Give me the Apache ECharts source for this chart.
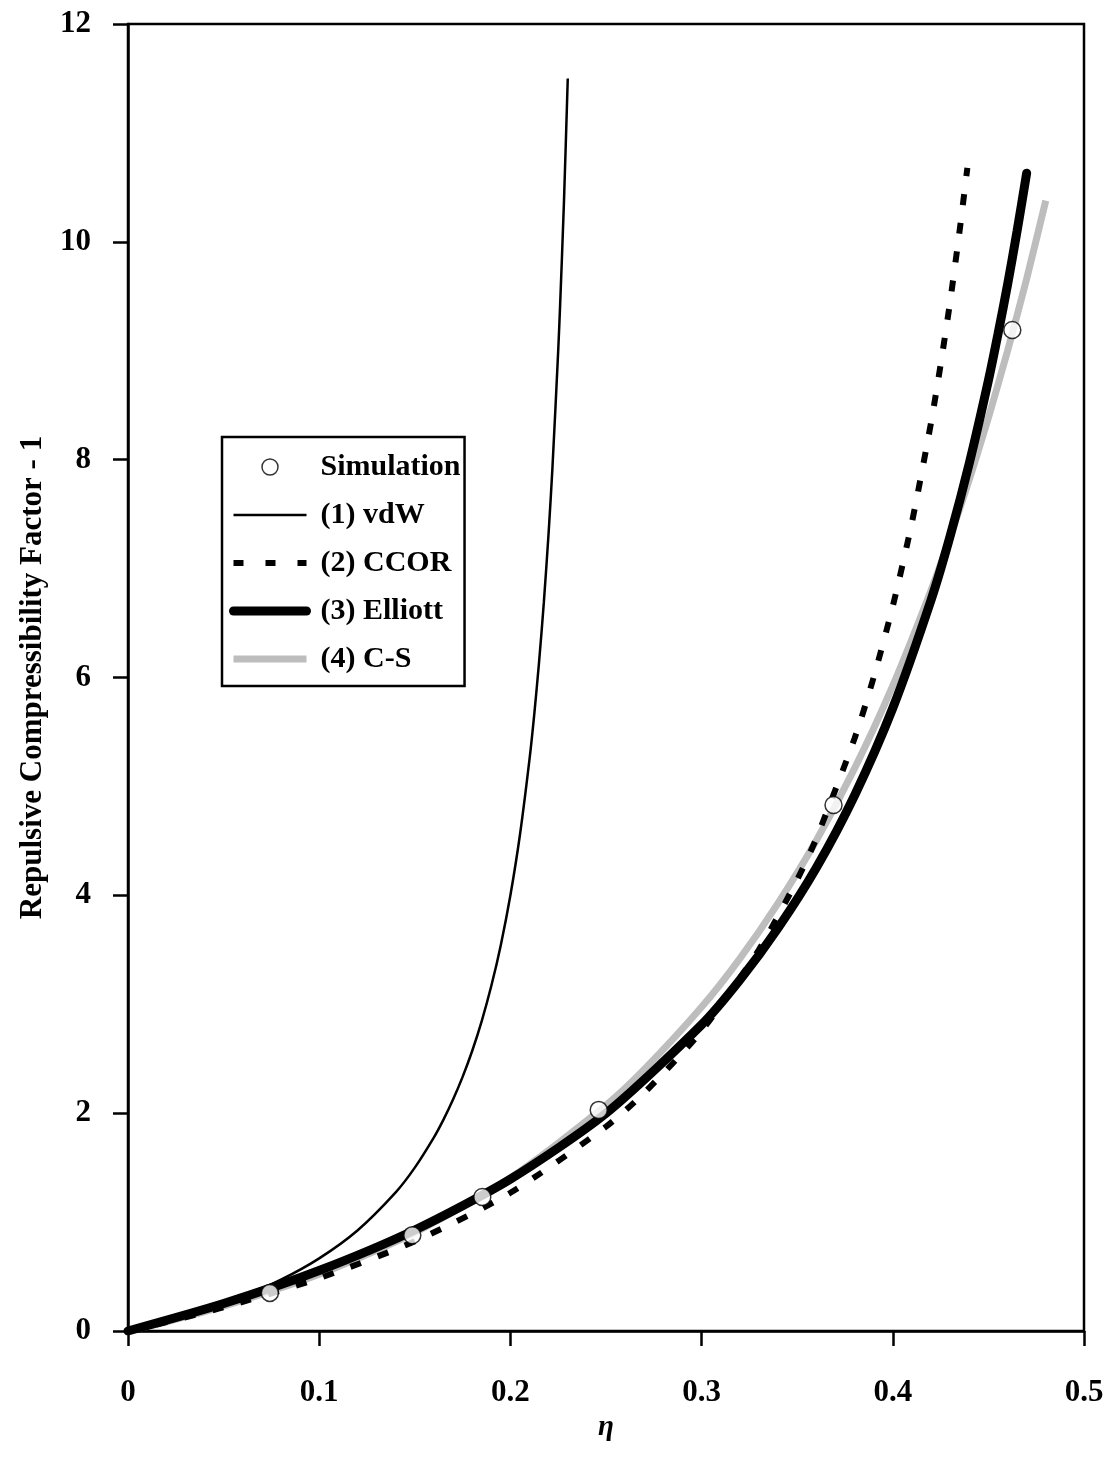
<!DOCTYPE html>
<html><head><meta charset="utf-8">
<script src="https://cdn.jsdelivr.net/npm/echarts@6/dist/echarts.min.js"></script>
<style>html,body{margin:0;padding:0;background:#fff}#c{width:1110px;height:1464px}</style>
</head><body><div id="c"></div>
<script>
// Simulation points
const simEta = [0.0742, 0.1487, 0.1853, 0.2462, 0.369, 0.4625];
const simZ   = [0.35, 0.88, 1.23, 2.03, 4.83, 9.19];
// (1) vdW
const vdwEta = [0, 0.02, 0.04, 0.06, 0.08, 0.10, 0.12, 0.14, 0.15, 0.16, 0.165, 0.17, 0.175, 0.18, 0.185, 0.19, 0.195, 0.20, 0.205, 0.21, 0.2125, 0.215, 0.2175, 0.22, 0.222, 0.225, 0.226, 0.228, 0.23];
const vdwZ   = [0, 0.087, 0.190, 0.316, 0.471, 0.667, 0.923, 1.273, 1.5, 1.778, 1.941, 2.125, 2.333, 2.571, 2.846, 3.167, 3.545, 4.0, 4.556, 5.25, 5.667, 6.143, 6.692, 7.333, 7.929, 9.0, 9.417, 10.36, 11.5];
// (2) CCOR
const ccorEta = [0, 0.02, 0.05, 0.10, 0.15, 0.20, 0.25, 0.27, 0.30, 0.33, 0.35, 0.36, 0.38, 0.39, 0.40, 0.41, 0.42, 0.425, 0.43, 0.435, 0.439];
const ccorZ   = [0, 0.0815, 0.217, 0.485, 0.824, 1.269, 1.876, 2.187, 2.756, 3.502, 4.144, 4.523, 5.44, 6.002, 6.655, 7.424, 8.34, 8.871, 9.454, 10.11, 10.68];
// (3) Elliott
const ellEta = [0, 0.05, 0.10, 0.15, 0.20, 0.25, 0.30, 0.32, 0.34, 0.36, 0.38, 0.40, 0.42, 0.43, 0.44, 0.45, 0.455, 0.46, 0.465, 0.47];
const ellZ   = [0, 0.252, 0.555, 0.927, 1.394, 1.999, 2.812, 3.222, 3.70, 4.253, 4.917, 5.72, 6.711, 7.299, 7.967, 8.727, 9.152, 9.604, 10.10, 10.63];
// (4) C-S
const csEta = [0, 0.02, 0.05, 0.10, 0.15, 0.20, 0.25, 0.27, 0.30, 0.32, 0.34, 0.36, 0.38, 0.40, 0.42, 0.43, 0.44, 0.45, 0.46, 0.47, 0.48];
const csZ   = [0, 0.0841, 0.2274, 0.5213, 0.9037, 1.406, 2.074, 2.401, 2.974, 3.419, 3.929, 4.504, 5.166, 5.926, 6.802, 7.291, 7.817, 8.385, 8.998, 9.66, 10.378];
// axis ticks
const xTicks = {min: 0, max: 0.5, step: 0.1};
const yTicks = {min: 0, max: 12, step: 2};

const zip = (a, b) => a.map((v, i) => [v, b[i]]);
const FF = '"Liberation Serif", "Times New Roman", serif';

const chart = echarts.init(document.getElementById('c'), null, {renderer: 'canvas'});
chart.setOption({
  animation: false,
  backgroundColor: '#fff',
  grid: {left: 128, right: 26, top: 24, bottom: 133, show: true, borderColor: '#000', borderWidth: 2.5, containLabel: false},
  xAxis: {
    type: 'value', min: xTicks.min, max: xTicks.max, interval: xTicks.step,
    name: 'η', nameLocation: 'middle', nameGap: 70,
    nameTextStyle: {fontFamily: FF, fontStyle: 'italic', fontWeight: 'bold', fontSize: 29, color: '#000'},
    axisLine: {onZero: false, lineStyle: {color: '#000', width: 2.5}},
    axisTick: {show: true, inside: false, length: 15, lineStyle: {color: '#000', width: 2.5}},
    axisLabel: {fontFamily: FF, fontWeight: 'bold', fontSize: 31, color: '#000', margin: 46},
    splitLine: {show: false}
  },
  yAxis: {
    type: 'value', min: yTicks.min, max: yTicks.max, interval: yTicks.step,
    name: 'Repulsive Compressibility Factor - 1', nameLocation: 'middle', nameGap: 80,
    nameTextStyle: {fontFamily: FF, fontWeight: 'bold', fontSize: 31, color: '#000'},
    axisLine: {onZero: false, lineStyle: {color: '#000', width: 2.5}},
    axisTick: {show: true, inside: false, length: 15, lineStyle: {color: '#000', width: 2.5}},
    axisLabel: {fontFamily: FF, fontWeight: 'bold', fontSize: 31, color: '#000', margin: 37},
    splitLine: {show: false}
  },
  legend: {
    orient: 'vertical', left: 222, top: 437, padding: [15, 4, 12, 7],
    itemGap: 18, itemWidth: 73, itemHeight: 16,
    borderColor: '#000', borderWidth: 2.5, backgroundColor: '#fff',
    selectedMode: false,
    textStyle: {fontFamily: FF, fontWeight: 'bold', fontSize: 30, color: '#000', padding: [0, 0, 0, 9]},
    data: [
      {name: 'Simulation', icon: 'circle', itemStyle: {color: '#fff', borderColor: '#000', borderWidth: 1.5}},
      {name: '(1) vdW', itemStyle: {opacity: 0}, lineStyle: {width: 2.5, color: '#000', type: 'solid'}},
      {name: '(2) CCOR', itemStyle: {opacity: 0}, lineStyle: {width: 6, color: '#000', type: [10, 22], cap: 'butt'}},
      {name: '(3) Elliott', itemStyle: {opacity: 0}, lineStyle: {width: 9, color: '#000', type: 'solid', cap: 'round'}},
      {name: '(4) C-S', itemStyle: {opacity: 0}, lineStyle: {width: 7, color: '#bdbdbd', type: 'solid'}}
    ]
  },
  series: [
    {type: 'line', name: '(4) C-S', data: zip(csEta, csZ), symbol: 'none', smooth: 0.25, z: 2,
     lineStyle: {color: '#bdbdbd', width: 7}, emphasis: {disabled: true}},
    {type: 'line', name: '(3) Elliott', data: zip(ellEta, ellZ), symbol: 'none', smooth: 0.25, z: 3,
     lineStyle: {color: '#000', width: 9, cap: 'round'}, emphasis: {disabled: true}},
    {type: 'line', name: '(2) CCOR', data: zip(ccorEta, ccorZ), symbol: 'none', smooth: 0.25, z: 4,
     lineStyle: {color: '#000', width: 6, type: [11, 18], cap: 'butt'}, emphasis: {disabled: true}},
    {type: 'line', name: '(1) vdW', data: zip(vdwEta, vdwZ), symbol: 'none', smooth: 0.25, z: 4,
     lineStyle: {color: '#000', width: 2.5}, emphasis: {disabled: true}},
    {type: 'scatter', name: 'Simulation', data: zip(simEta, simZ), symbol: 'circle', symbolSize: 17, z: 10,
     itemStyle: {color: '#fff', borderColor: '#000', borderWidth: 1.5}, emphasis: {disabled: true}}
  ]
});
</script>
</body></html>
